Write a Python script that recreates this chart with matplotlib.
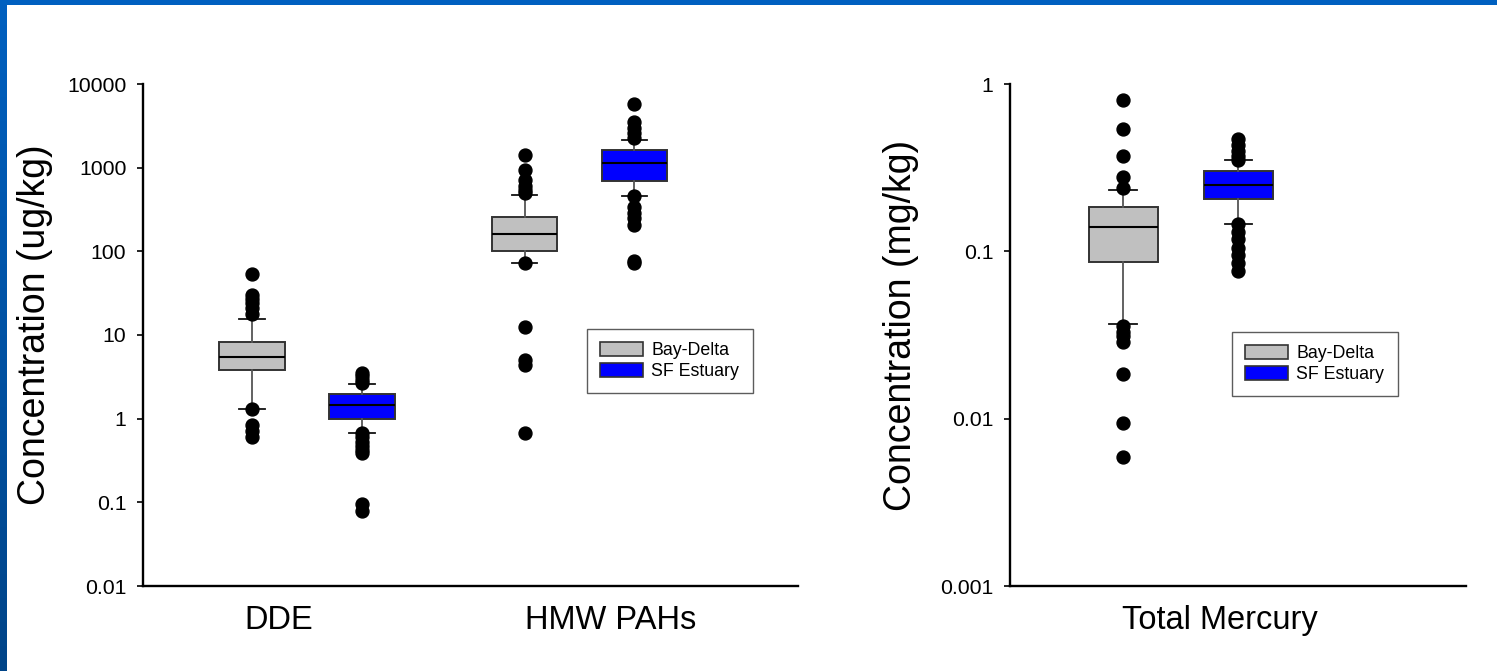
import matplotlib
matplotlib.use("Agg")
import matplotlib.pyplot as plt
import numpy as np
from matplotlib.patches import Patch, Rectangle
from matplotlib.colors import LinearSegmentedColormap

plt.rcParams['font.family'] = ['Liberation Sans', 'DejaVu Sans']

# ---------------- data ----------------
series_names = ["Bay-Delta", "SF Estuary"]
series_colors = ["#C0C0C0", "#0000FF"]

left_categories = ["DDE", "HMW PAHs"]
right_categories = ["Total Mercury"]

left_yticks = [0.01, 0.1, 1, 10, 100, 1000, 10000]
left_yticklabels = ["0.01", "0.1", "1", "10", "100", "1000", "10000"]
right_yticks = [0.001, 0.01, 0.1, 1]
right_yticklabels = ["0.001", "0.01", "0.1", "1"]

# box statistics: q1, median, q3, lower whisker, upper whisker
dde_bd_box = [3.8, 5.4, 8.3, 1.3, 15.5]
dde_bd_out = [53, 30, 27, 24, 21, 18, 1.3, 0.84, 0.72, 0.6]
dde_sf_box = [1.0, 1.45, 1.95, 0.68, 2.6]
dde_sf_out = [3.5, 3.2, 2.9, 2.7, 0.68, 0.6, 0.53, 0.47, 0.42, 0.39, 0.095, 0.078]

pah_bd_box = [100, 160, 260, 73, 470]
pah_bd_out = [1400, 930, 710, 600, 540, 495, 73, 12.3, 5.0, 4.4, 0.68]
pah_sf_box = [690, 1130, 1640, 460, 2150]
pah_sf_out = [5800, 3500, 3000, 2600, 2250, 460, 340, 290, 250, 205, 76, 72]

hg_bd_box = [0.0866, 0.140, 0.183, 0.0366, 0.231]
hg_bd_out = [0.80, 0.54, 0.37, 0.28, 0.24, 0.036, 0.033, 0.031, 0.0288, 0.0186, 0.0094, 0.0059]
hg_sf_box = [0.205, 0.25, 0.302, 0.145, 0.351]
hg_sf_out = [0.47, 0.43, 0.40, 0.37, 0.35, 0.145, 0.13, 0.118, 0.105, 0.095, 0.085, 0.076]


def make_stats(box, out):
    q1, med, q3, lo, hi = box
    return dict(q1=q1, med=med, q3=q3, whislo=lo, whishi=hi, fliers=np.array(out))


W, H = 1497, 671
fig = plt.figure(figsize=(W / 100, H / 100), dpi=100)
fig.patch.set_facecolor("white")


def style_axis(ax):
    for s in ["top", "right"]:
        ax.spines[s].set_visible(False)
    for s in ["left", "bottom"]:
        ax.spines[s].set_linewidth(1.7)
        ax.spines[s].set_color("black")
    ax.tick_params(axis="y", which="major", length=4, width=1.2, labelsize=15.3, pad=8)
    ax.tick_params(axis="y", which="minor", length=0)
    ax.tick_params(axis="x", length=0, labelsize=23.5, pad=14)


def draw_boxes(ax, stats, positions, width, capw):
    for st, pos, col in zip(stats, positions, series_colors * (len(stats) // 2)):
        ax.bxp([st], positions=[pos], widths=width, capwidths=capw,
               patch_artist=True, showfliers=True,
               boxprops=dict(facecolor=col, edgecolor="#333333", linewidth=1.4),
               medianprops=dict(color="black", linewidth=1.5),
               whiskerprops=dict(color="#555555", linewidth=1.3),
               capprops=dict(color="#111111", linewidth=1.3),
               flierprops=dict(marker="o", markerfacecolor="black",
                               markeredgecolor="black", markersize=9.3, linestyle="none"))


def add_legend(ax, x, y):
    handles = [Patch(facecolor=c, edgecolor="#333333", linewidth=1.2) for c in series_colors]
    leg = ax.legend(handles, series_names, loc="upper left",
                    bbox_to_anchor=(x / W, 1 - y / H), bbox_transform=fig.transFigure,
                    borderaxespad=0, fontsize=12.8, frameon=True, fancybox=False,
                    handlelength=2.42, handleheight=0.8, handletextpad=0.45,
                    labelspacing=0.2, borderpad=0.75)
    leg.get_frame().set_edgecolor("#333333")
    leg.get_frame().set_linewidth(1.0)
    return leg


# -------- left axes --------
axL = fig.add_axes([143 / W, 1 - 586 / H, (798 - 143) / W, (586 - 84) / H])
axL.set_yscale("log")
axL.set_ylim(0.01, 10000)
axL.set_xlim(0.398, 2.802)
off, bw, cw = 0.2018, 0.242, 0.095
statsL = [make_stats(dde_bd_box, dde_bd_out), make_stats(dde_sf_box, dde_sf_out),
          make_stats(pah_bd_box, pah_bd_out), make_stats(pah_sf_box, pah_sf_out)]
posL = [1 - off, 1 + off, 2 - off, 2 + off]
draw_boxes(axL, statsL, posL, bw, cw)
style_axis(axL)
axL.set_yticks(left_yticks)
axL.set_yticklabels(left_yticklabels)
axL.yaxis.set_minor_locator(matplotlib.ticker.NullLocator())
axL.set_xticks([0.897, 2.115])
axL.set_xticklabels(left_categories)
axL.set_ylabel("Concentration (ug/kg)", fontsize=27, va="center")
axL.yaxis.set_label_coords((35 - 143) / 655, (586 - 325) / 502)
add_legend(axL, 587, 329)

# -------- right axes --------
axR = fig.add_axes([1010 / W, 1 - 586 / H, (1466 - 1010) / W, (586 - 84) / H])
axR.set_yscale("log")
axR.set_ylim(0.001, 1)
axR.set_xlim(0.374, 2.047)
offR, bwR, cwR = 0.211, 0.253, 0.10
statsR = [make_stats(hg_bd_box, hg_bd_out), make_stats(hg_sf_box, hg_sf_out)]
draw_boxes(axR, statsR, [1 - offR, 1 + offR], bwR, cwR)
style_axis(axR)
axR.set_yticks(right_yticks)
axR.set_yticklabels(right_yticklabels)
axR.yaxis.set_minor_locator(matplotlib.ticker.NullLocator())
axR.set_xticks([1.145])
axR.set_xticklabels(right_categories)
axR.set_ylabel("Concentration (mg/kg)", fontsize=27, va="center")
axR.yaxis.set_label_coords((901 - 1010) / 456, (586 - 325) / 502)
add_legend(axR, 1232, 332)

# -------- slide border --------
fig.add_artist(Rectangle((0, 1 - 5 / H), 1, 5 / H, transform=fig.transFigure,
                         facecolor="#0060C0", edgecolor="none", zorder=10))
band = fig.add_axes([0, 0, 7 / W, 1])
grad = np.linspace(0, 1, 256).reshape(-1, 1)
cmap = LinearSegmentedColormap.from_list("band", ["#0060C0", "#004488"])
band.imshow(grad, aspect="auto", cmap=cmap, extent=[0, 1, 0, 1], origin="upper")
band.set_axis_off()

fig.savefig("out.png", dpi=100, facecolor="white")
